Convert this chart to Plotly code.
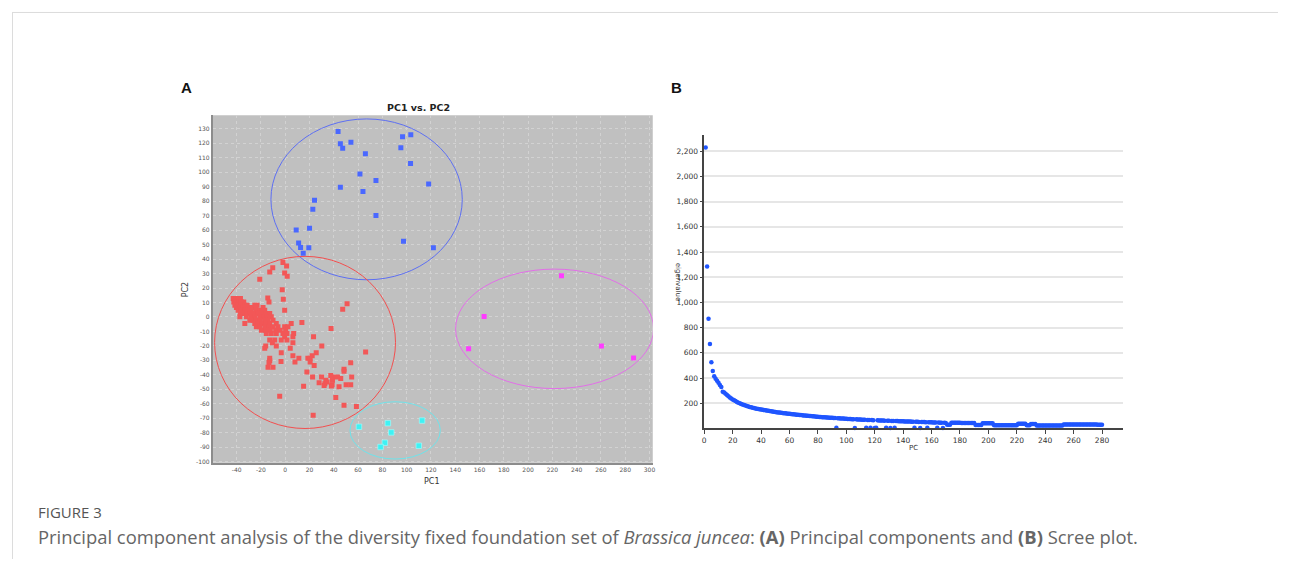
import plotly.graph_objects as go

# the page body adds an 8px margin, so the figure is made 16px smaller and positions are offset
OFF = 8
W, H = 1290 - 2 * OFF, 569 - 2 * OFF

# ---------------- Panel A data (PC1 vs PC2) ----------------
red_x = [-21.0, -12.8, -10.3, -1.9, 1.1, -0.5, 1.6, -2.5, -1.6, -0.5, -14.4, -13.4, 13.7, 37.7, 47.3, 50.9,
         -42.9, -40.7, -38.8, -36.9,
         -42.4, -40.2, -38.0, -36.1, -34.2,
         -41.5, -38.8, -36.1, -33.3, -31.4, -25.1, -23.2,
         -40.2, -37.4, -34.7, -32.0, -29.2, -26.5, -24.3, -18.3,
         -38.8, -36.1, -33.3, -30.6, -27.9, -23.8, -21.0, -18.8, -16.9,
         -36.9, -34.2, -31.4, -28.7, -25.9, -22.4, -19.6, -16.1, -12.8,
         -37.4, -32.0, -27.9, -25.1, -21.0, -17.7, -15.0, -11.5,
         -29.2, -26.5, -23.8, -20.5, -16.9, -14.2, -10.1,
         -33.3, -25.1, -22.4, -18.8, -15.6, -12.8, -7.4, 4.9,
         -23.8, -21.0, -16.9, -13.4, -10.1, -6.0, -0.5, 2.2,
         -19.6, -16.1, -12.3, -7.9, -4.1, 0.3,
         -15.6, -11.5, -7.4, -1.9, 1.4, 6.9,
         -0.5, 6.3, 23.3,
         -12.8, -8.7, -3.3, 1.4,
         -10.6, 6.3,
         -16.1, -7.4, 30.1,
         -16.9, 4.1,
         -3.3, 25.5,
         6.3, 22.2,
         -12.8, 11.2, 18.6, 20.5,
         66.2, 53.9, 48.4, 48.4, 54.7, 50.1, 53.9, 45.7, 43.0, 44.3, 38.9, 38.9, 38.6, 38.0,
         33.4, 32.6, 32.0, 34.5, 27.9, 29.9, 22.5, 15.1, 41.6, 48.4, 58.6, 23.0, 17.8, 23.8,
         8.0, -3.5, 37.5, 20.5,
         -4.6, -12.8, -13.4, -14.2, -10.1]
red_y = [26.0, 31.1, 34.0, 37.7, 35.2, 30.4, 28.1, 18.9, 12.3, 4.7, 13.2, 10.4, -3.9, -8.0, 5.4, 9.2,
         12.7, 12.7, 12.7, 12.7,
         10.4, 10.4, 10.4, 10.4, 10.4,
         8.1, 8.1, 8.1, 8.1, 8.1, 8.1, 8.1,
         6.5, 6.5, 6.5, 6.5, 6.5, 6.5, 6.5, 6.5,
         4.7, 4.7, 4.7, 4.7, 4.7, 4.7, 4.7, 4.7, 4.7,
         2.4, 2.4, 2.4, 2.4, 2.4, 2.4, 2.4, 2.4, 2.4,
         0.1, 0.1, 0.1, 0.1, 0.1, 0.1, 0.1, 0.1,
         -2.2, -2.2, -2.2, -2.2, -2.2, -2.2, -2.2,
         -4.5, -4.5, -4.5, -4.5, -4.5, -4.5, -4.5, -4.5,
         -6.8, -6.8, -6.8, -6.8, -6.8, -6.8, -6.8, -6.8,
         -9.1, -9.1, -9.1, -9.1, -9.1, -9.1,
         -11.4, -11.4, -11.4, -11.4, -11.4, -11.4,
         -13.7, -13.7, -13.7,
         -16.0, -16.0, -16.0, -16.0,
         -17.8, -17.8,
         -20.1, -20.1, -20.1,
         -21.7, -21.7,
         -24.7, -24.7,
         -26.8, -26.8,
         -28.6, -28.6, -28.6, -28.6,
         -24.2, -31.6, -36.2, -37.6, -41.5, -46.8, -46.8, -42.6, -41.5, -48.3, -41.5, -43.8, -46.8, -47.7,
         -43.8, -46.1, -47.3, -45.0, -45.4, -41.5, -41.5, -47.9, -55.7, -61.0, -61.9, -67.9, -38.0, -33.5,
         -31.1, -30.7, -40.4, -31.1,
         -54.8, -30.2, -31.4, -34.8, -34.8]

blue_x = [43.5, 45.4, 47.3, 54.1, 66.0, 61.5, 74.7, 45.4, 64.0, 74.7, 96.6, 103.4, 95.2, 103.2, 118.1,
          97.4, 122.0, 24.1, 22.7, 9.0, 20.0, 11.0, 12.6, 19.4, 14.8]
blue_y = [128.2, 119.7, 116.7, 120.8, 112.8, 98.8, 94.4, 89.6, 86.8, 70.1, 124.5, 125.9, 116.9, 106.1, 91.9,
          52.4, 47.8, 80.6, 74.5, 60.2, 61.4, 51.2, 48.1, 47.8, 44.1]

cyan_x = [60.7, 84.5, 87.3, 82.0, 78.5, 112.7, 110.0]
cyan_y = [-75.9, -73.4, -79.8, -86.9, -89.9, -71.6, -89.0]

magenta_x = [227.5, 163.8, 151.0, 260.4, 286.9]
magenta_y = [28.5, 0.3, -22.0, -20.1, -28.4]

# cluster ellipses: centre x, centre y, radius x, radius y
ellipse_names = ["blue", "red", "cyan", "magenta"]
ellipse_cx = [67.0, 16.3, 90.5, 221.8]
ellipse_cy = [81.3, -17.6, -78.4, -8.2]
ellipse_rx = [78.8, 74.5, 37.2, 81.5]
ellipse_ry = [55.6, 59.5, 19.8, 41.3]

a_xticks = list(range(-40, 301, 20))
a_yticks = list(range(-100, 131, 10))

# ---------------- Panel B data (scree plot) ----------------
pc_index = list(range(1, 281))
eigenvalues = [
    2230, 1285, 870, 670, 525, 455, 415, 395, 378, 362, 345, 330, 292, 286, 276, 265, 255, 246, 238, 230,
    223, 217, 211, 205, 200, 195, 190, 186, 182, 178, 174, 171, 168, 165, 162, 159, 157, 154, 152, 150,
    148, 146, 144, 142, 140, 138, 136, 134, 132, 130, 129, 127, 126, 124, 123, 121, 120, 118, 117, 116,
    114, 113, 112, 110, 109, 108, 107, 106, 104, 103, 102, 101, 100, 99, 98, 97, 96, 95, 94, 93,
    92, 91, 90, 90, 89, 88, 87, 86, 85, 85, 84, 83, 5, 82, 81, 80, 79, 79, 78, 77,
    76, 76, 75, 74, 74, 4, 73, 72, 71, 71, 70, 70, 69, 5, 68, 68, 6, 67, 66, 4,
    5, 65, 64, 64, 63, 63, 62, 5, 62, 61, 4, 60, 60, 5, 59, 59, 58, 58, 57, 57,
    56, 56, 55, 55, 55, 54, 54, 6, 53, 53, 52, 4, 52, 51, 51, 50, 5, 50, 49, 49,
    48, 48, 47, 5, 47, 46, 46, 4, 45, 44, 30, 30, 30,
    46, 46, 46, 45, 45, 45, 45, 44, 44, 44, 44, 44, 43, 43, 43, 43, 43,
    27, 27, 27, 27, 27,
    42, 42, 42, 41, 41, 41, 41, 41,
    26, 26, 26, 26, 26, 26, 26, 26, 26, 26, 26, 26, 26, 26, 26, 26, 26,
    38, 38, 38, 38, 38, 38,
    25, 25, 25,
    36, 36, 36, 36,
    24, 24, 24, 24, 24, 24, 24, 24, 24, 24, 24, 24, 24, 24, 24, 24, 24, 24, 24,
    32, 32, 32, 32, 32, 32, 32, 32, 32, 32, 32, 32, 32, 31, 31, 31, 31, 31, 31, 31,
    31, 31, 31, 31, 30, 30, 30, 30]
b_xticks = list(range(0, 281, 20))
b_yticks = list(range(200, 2201, 200))

caption_head = "FIGURE 3"
caption_text = ("Principal component analysis of the diversity fixed foundation set of "
                "<i>Brassica juncea</i>: <b>(A)</b> Principal components and <b>(B)</b> Scree plot.")


def fx(p):
    return (p - OFF) / W


def fy(p):
    return 1 - (p - OFF) / H


fig = go.Figure()

fig.add_trace(go.Scatter(x=red_x, y=red_y, mode="markers", xaxis="x", yaxis="y",
                         marker=dict(symbol="square", size=5, color="#f25757"), showlegend=False))
fig.add_trace(go.Scatter(x=blue_x, y=blue_y, mode="markers", xaxis="x", yaxis="y",
                         marker=dict(symbol="square", size=5, color="#4a68ff"), showlegend=False))
fig.add_trace(go.Scatter(x=cyan_x, y=cyan_y, mode="markers", xaxis="x", yaxis="y",
                         marker=dict(symbol="square", size=5.5, color="#3ff2f4",
                                     line=dict(color="rgba(160,250,250,0.85)", width=0.8)), showlegend=False))
fig.add_trace(go.Scatter(x=magenta_x, y=magenta_y, mode="markers", xaxis="x", yaxis="y",
                         marker=dict(symbol="square", size=5, color="#ff3cff"), showlegend=False))

fig.add_trace(go.Scatter(x=pc_index, y=eigenvalues, mode="markers", xaxis="x2", yaxis="y2",
                         cliponaxis=False,
                         marker=dict(symbol="circle", size=4.5, color="#1f55ff"), showlegend=False))

shapes = []
# grey plotting area of panel A
shapes.append(dict(type="rect", xref="x domain", yref="y domain", x0=0, x1=1, y0=0, y1=1,
                   fillcolor="#c0c0c0", line=dict(width=0), layer="below"))

ell_colors = ["#5d6ff2", "#f24f4f", "#6fe3ea", "#e26ee8"]
for cx, cy, rx, ry, col in zip(ellipse_cx, ellipse_cy, ellipse_rx, ellipse_ry, ell_colors):
    shapes.append(dict(type="circle", xref="x", yref="y", x0=cx - rx, x1=cx + rx, y0=cy - ry, y1=cy + ry,
                       line=dict(color=col, width=1), layer="above"))

# card border
border = "#dcdcdc"
shapes.append(dict(type="line", xref="paper", yref="paper", x0=fx(10), x1=fx(1281), y0=fy(12.5), y1=fy(12.5),
                   line=dict(color=border, width=1)))
shapes.append(dict(type="line", xref="paper", yref="paper", x0=fx(10.5), x1=fx(10.5), y0=fy(12), y1=0,
                   line=dict(color=border, width=1)))

tick_a = dict(family="DejaVu Sans", size=6, color="#555555")
tick_b = dict(family="DejaVu Sans", size=7.5, color="#333333")

fig.update_layout(
    width=W, height=H,
    margin=dict(l=0, r=0, t=0, b=0),
    paper_bgcolor="white",
    plot_bgcolor="rgba(0,0,0,0)",
    shapes=shapes,
    xaxis=dict(domain=[fx(211.7), fx(653.3)], range=[-59.6, 302.7], anchor="y",
               tickvals=a_xticks, ticktext=[str(v) for v in a_xticks], tickfont=tick_a,
               showgrid=True, gridcolor="#d2d2d2", griddash="dot", gridwidth=1,
               zeroline=False, showline=True, linecolor="#8c8c8c", linewidth=2, ticks="", layer="below traces"),
    yaxis=dict(domain=[fy(464.3), fy(115.7)], range=[-100.7, 139.4], anchor="x",
               tickvals=a_yticks, ticktext=[str(v) for v in a_yticks], tickfont=tick_a,
               showgrid=True, gridcolor="#d2d2d2", griddash="dot", gridwidth=1,
               zeroline=False, showline=True, linecolor="#8c8c8c", linewidth=2, ticks="", layer="below traces"),
    xaxis2=dict(domain=[fx(705), fx(1125)], range=[0, 294.5], anchor="y2",
                tickvals=b_xticks, tickfont=tick_b, showgrid=False, zeroline=False,
                showline=True, linecolor="#444444", linewidth=1.5,
                ticks="outside", ticklen=4, tickcolor="#444444", tickwidth=1),
    yaxis2=dict(domain=[fy(430), fy(135)], range=[0, 2332], anchor="x2",
                tickvals=b_yticks, tickformat=",", tickfont=tick_b,
                showgrid=True, gridcolor="#e6e6e6", gridwidth=1.5, zeroline=False,
                showline=True, linecolor="#444444", linewidth=1.5,
                ticks="outside", ticklen=3, tickcolor="#444444", tickwidth=1),
)


def label(text, px, py, size, color="#333333", family="DejaVu Sans", angle=0, xanchor="center"):
    return dict(text=text, x=fx(px), y=fy(py), xref="paper", yref="paper", showarrow=False,
                xanchor=xanchor, yanchor="middle", textangle=angle,
                font=dict(family=family, size=size, color=color))


ann = [
    label("<b>A</b>", 185, 88, 15, "#111111", "Liberation Sans"),
    label("<b>B</b>", 677, 88, 15, "#111111", "Liberation Sans"),
    label("<b>PC1 vs. PC2</b>", 418, 107.5, 9.5, "#222222"),
    label("PC1", 432, 483, 8),
    label("PC2", 185, 290, 8, angle=-90),
    label("PC", 915, 449.5, 7),
    label("eigenvalue", 679, 283, 7, angle=90),
    label(caption_head, 34, 514, 15, "#555555", "Open Sans", xanchor="left"),
    label(caption_text, 34, 538, 18.4, "#666666", "Open Sans", xanchor="left"),
]
fig.update_layout(annotations=ann)

fig.write_html("out.html")
